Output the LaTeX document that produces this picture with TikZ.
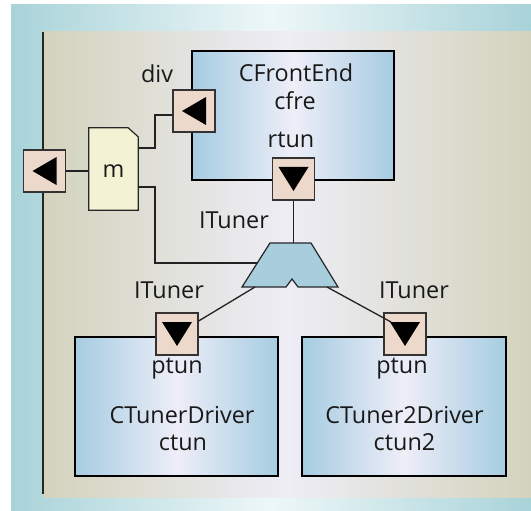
\documentclass[tikz,border=0pt]{standalone}
\usepackage{fontspec}
\setmainfont{Open Sans}
\definecolor{tealE}{HTML}{A8D3D9}
\definecolor{tealM}{HTML}{EEF7F8}
\definecolor{beigeE}{HTML}{D3D3BD}
\definecolor{beigeM}{HTML}{EEEDF6}
\definecolor{boxE}{HTML}{A6CCE1}
\definecolor{boxM}{HTML}{EEEEF8}
\definecolor{portc}{HTML}{ECD9CB}
\definecolor{mfill}{HTML}{F3F2D5}
\definecolor{muxc}{HTML}{A8CDDD}
\definecolor{wirec}{HTML}{222222}
\tikzset{
  comp/.style={draw=black, line width=1.5pt, left color=boxE, right color=boxE, middle color=boxM, inner sep=0pt},
  port/.style={draw=black!80, line width=1.2pt, fill=portc, minimum size=42pt, inner sep=0pt},
  wire/.style={draw=wirec, line width=1.3pt},
  lbl/.style={anchor=base, inner sep=0pt, font=\fontsize{23.4}{28}\selectfont, text=black!90},
}
\newcommand{\downtri}[1]{\fill[black] ([shift={(-15,-12)}]#1.center) -- ([shift={(15,-12)}]#1.center) -- ([shift={(0,12)}]#1.center) -- cycle;}
\newcommand{\lefttri}[1]{\fill[black] ([shift={(-12,0)}]#1.center) -- ([shift={(12,-14)}]#1.center) -- ([shift={(12,14)}]#1.center) -- cycle;}
\begin{document}
\begin{tikzpicture}[x=1pt,y=-1pt]
\useasboundingbox (0,0) rectangle (531,511);
% backgrounds
\shade[left color=tealE, right color=tealE, middle color=tealM] (11,5) rectangle (531,511);
\shade[left color=beigeE, right color=beigeE, middle color=beigeM] (43,32) rectangle (531,497);
\draw[line width=1.5pt, black!85] (43,32) -- (43,494);

% components
\node[comp, minimum width=202pt, minimum height=129pt] (cfe) at (293,115.5) {};
\node[comp, minimum width=203pt, minimum height=139pt] (ctd) at (176.5,406.5) {};
\node[comp, minimum width=204pt, minimum height=139pt] (ctd2) at (404,406.5) {};

% m element
\node[minimum width=49pt, minimum height=82pt, inner sep=0pt] (m) at (113.5,169) {};
\filldraw[fill=mfill, draw=black!85, line width=1.2pt]
  (m.north west) -- ([shift={(-10,0)}]m.north east) -- ([shift={(0,9)}]m.north east)
  -- (m.south east) -- (m.south west) -- cycle;
\node[lbl] (mlbl) at (113.5,177) {m};

% mux
\coordinate (muxTL) at (270,243);
\coordinate (muxTR) at (311,243);
\coordinate (muxT) at (293.5,243);
\coordinate (muxL) at (257.3,263);
\coordinate (muxBL) at (255,287);
\coordinate (muxBR) at (327,287);
\filldraw[fill=muxc, draw=black!85, line width=1.2pt]
  (muxTL) -- (muxTR) -- (338,287) -- (298,287) -- (292,279) -- (286,287) -- (242,287) -- cycle;

% ports
\node[port] (lp) at (44.5,171) {};
\node[port] (div) at (194,111) {};
\node[port] (rtun) at (293.5,179) {};
\node[port] (ptunL) at (177,334) {};
\node[port] (ptunR) at (405,334) {};
\lefttri{lp}
\lefttri{div}
\downtri{rtun}
\downtri{ptunL}
\downtri{ptunR}
\coordinate (ptunRc) at ([shift={(-14,-12)}]ptunR.center);

% wires
\draw[wire] (lp.east) -- (lp.east -| m.west);
\draw[wire] (m.east |- 0,148) -- (155,148) -- (155,115) -- (div.west |- 0,115);
\draw[wire] (m.east |- 0,187) -- (155,187) -- (155,263) -- (muxL);
\draw[wire] (rtun.south) -- (muxT);
\draw[wire] (muxBL) -- (ptunL.east |- 0,321);
\draw[wire] (muxBR) -- (ptunRc);

% labels
\node[lbl] at (296,82) {CFrontEnd};
\node[lbl] at (295,110) {cfre};
\node[lbl] at (291,147) {rtun};
\node[lbl] at (157,83) {div};
\node[lbl] at (234,228) {ITuner};
\node[lbl] at (169,298) {ITuner};
\node[lbl] at (414,298) {ITuner};
\node[lbl] at (177,373) {ptun};
\node[lbl] at (402,373) {ptun};
\node[lbl] at (182,423) {CTunerDriver};
\node[lbl] at (183,450) {ctun};
\node[lbl] at (404.5,423) {CTuner2Driver};
\node[lbl] at (404.5,450) {ctun2};
\end{tikzpicture}
\end{document}
